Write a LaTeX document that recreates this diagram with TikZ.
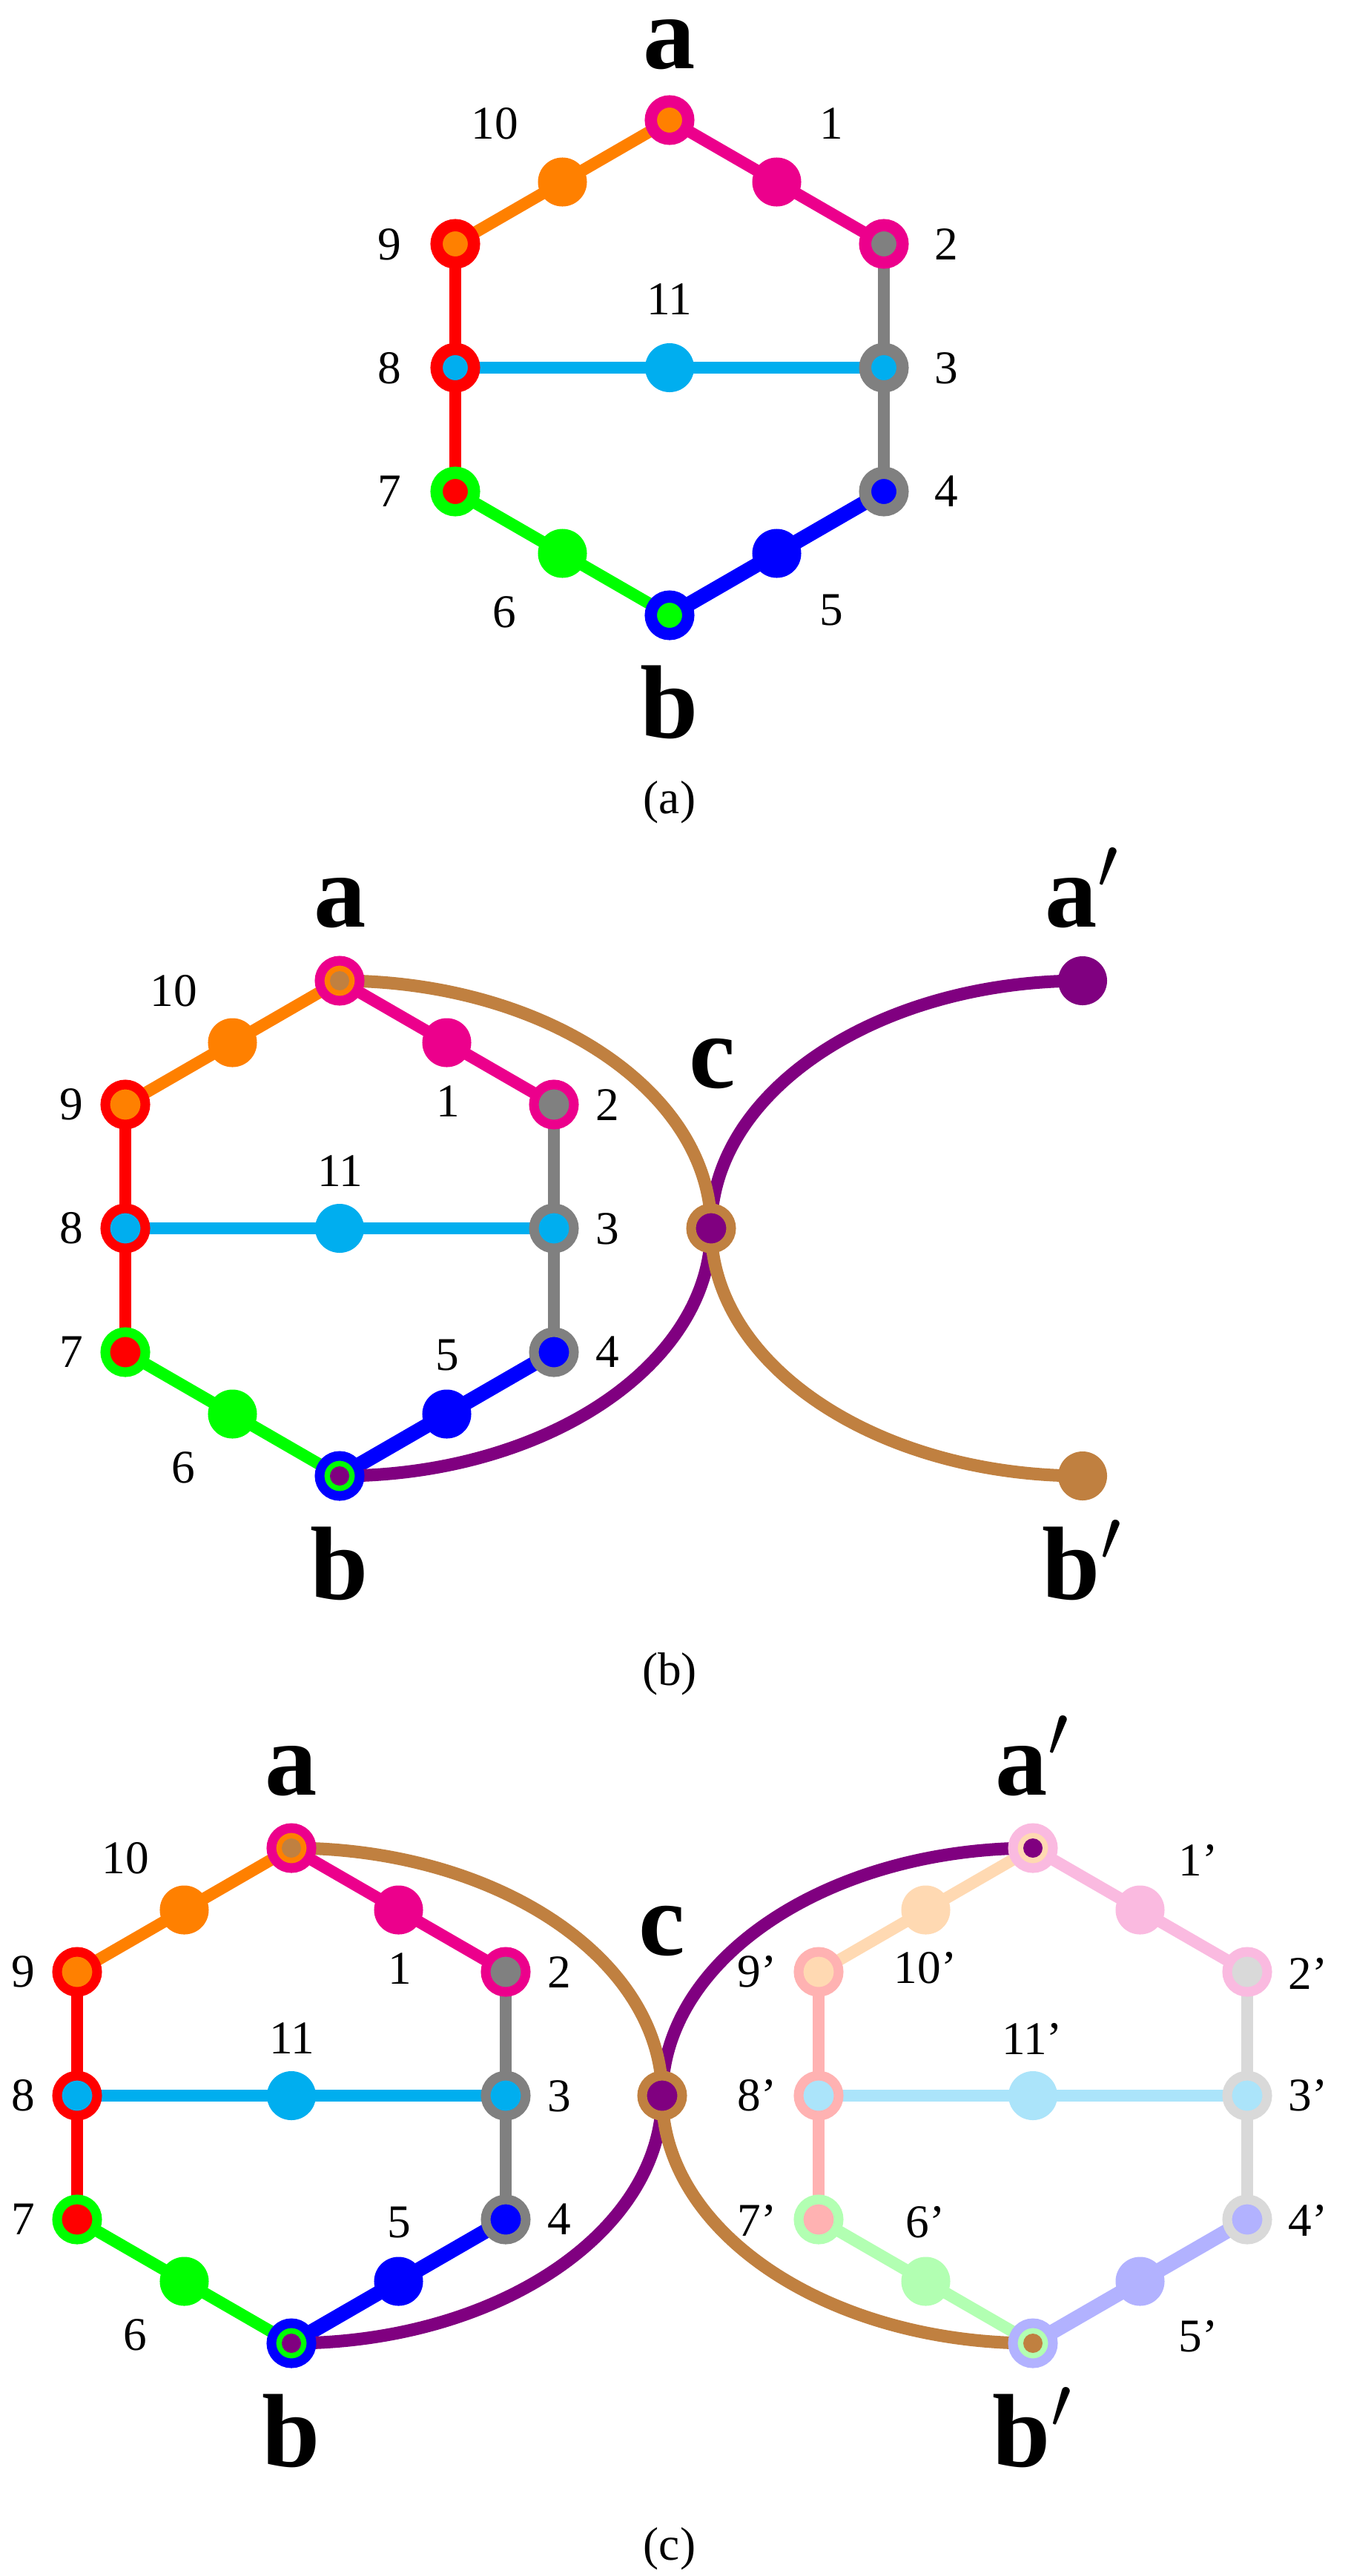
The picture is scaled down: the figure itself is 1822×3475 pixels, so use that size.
\documentclass[tikz,border=0pt]{standalone}
\usepackage{fix-cm}
\usepackage{fontspec}
\setmainfont{Liberation Serif}
\usetikzlibrary{calc}
\pgfdeclarelayer{bg}
\pgfsetlayers{bg,main}
\definecolor{cMag}{RGB}{236,0,140}
\definecolor{cOrn}{RGB}{255,128,0}
\definecolor{cRed}{RGB}{255,0,0}
\definecolor{cGry}{RGB}{128,128,128}
\definecolor{cSky}{RGB}{0,174,239}
\definecolor{cGrn}{RGB}{0,255,0}
\definecolor{cBlu}{RGB}{0,0,255}
\definecolor{cBrn}{RGB}{192,128,64}
\definecolor{cPur}{RGB}{128,0,128}
\colorlet{cMagL}{cMag!27!white}
\colorlet{cOrnL}{cOrn!30!white}
\colorlet{cRedL}{cRed!30!white}
\colorlet{cGryL}{cGry!30!white}
\colorlet{cSkyL}{cSky!33!white}
\colorlet{cGrnL}{cGrn!30!white}
\colorlet{cBluL}{cBlu!30!white}
\tikzset{
  vA/.style 2 args={circle, draw=#1, fill=#2, line width=0.165cm, minimum size=0.505cm, inner sep=0pt},
  vB/.style 2 args={circle, draw=#1, fill=#2, line width=0.13cm, minimum size=0.54cm, inner sep=0pt},
  mdot/.style={circle, fill=#1, minimum size=0.66cm, inner sep=0pt},
  seg/.style={draw=#1, line width=0.16cm},
  bseg/.style={draw=#1, line width=0.20cm},
  curv/.style={draw=#1, line width=0.17cm},
  lbl/.style={font=\fontsize{18}{20}\selectfont, inner sep=0pt},
  biglbl/.style={font=\fontsize{40}{44}\selectfont\bfseries, inner sep=0pt, anchor=base},
}
% #1 prefix, #2 x shift, #3 y shift, #4 colour suffix, #5 vertex style
\newcommand\hexgraph[5]{%
  \begin{scope}[shift={(#2,#3)}]
    \node[#5={cMag#4}{cOrn#4}] (#1a) at (903,162) {};
    \node[#5={cMag#4}{cGry#4}] (#1v2) at (1192,329) {};
    \node[#5={cGry#4}{cSky#4}] (#1v3) at (1192,496) {};
    \node[#5={cGry#4}{cBlu#4}] (#1v4) at (1192,663) {};
    \node[#5={cBlu#4}{cGrn#4}] (#1b) at (903,830) {};
    \node[#5={cGrn#4}{cRed#4}] (#1v7) at (614,663) {};
    \node[#5={cRed#4}{cSky#4}] (#1v8) at (614,496) {};
    \node[#5={cRed#4}{cOrn#4}] (#1v9) at (614,329) {};
    \node[mdot=cMag#4] (#1m1) at (1047.5,245.5) {};
    \node[mdot=cBlu#4] (#1m5) at (1047.5,746.5) {};
    \node[mdot=cGrn#4] (#1m6) at (758.5,746.5) {};
    \node[mdot=cOrn#4] (#1m10) at (758.5,245.5) {};
    \node[mdot=cSky#4] (#1m11) at (903,496) {};
  \end{scope}
  \begin{pgfonlayer}{bg}
    \draw[seg=cMag#4] (#1a.center) -- (#1m1.center) -- (#1v2.center);
    \draw[seg=cGry#4] (#1v2.center) -- (#1v3.center) -- (#1v4.center);
    \draw[bseg=cBlu#4] (#1v4.center) -- (#1m5.center) -- (#1b.center);
    \draw[seg=cGrn#4] (#1b.center) -- (#1m6.center) -- (#1v7.center);
    \draw[seg=cRed#4] (#1v7.center) -- (#1v8.center) -- (#1v9.center);
    \draw[seg=cOrn#4] (#1v9.center) -- (#1m10.center) -- (#1a.center);
    \draw[seg=cSky#4] (#1v8.center) -- (#1m11.center) -- (#1v3.center);
  \end{pgfonlayer}%
}
\begin{document}
\begin{tikzpicture}[x=0.01cm, y=-0.01cm]
\begin{pgfonlayer}{bg}
  \fill[white] (0,0) rectangle (1822,3475);
\end{pgfonlayer}
\useasboundingbox (0,0) rectangle (1822,3475);

% ---------------- panel (a) ----------------
\hexgraph{A}{0}{0}{}{vA}
\node[biglbl] (lAa) at (903,92) {a};
\node[biglbl] (lAb) at (903,995) {b};
\node[lbl] (lA10) at (667,167) {10};
\node[lbl] (lA1) at (1121,167) {1};
\node[lbl] (lA9) at (525,330) {9};
\node[lbl] (lA8) at (525,497) {8};
\node[lbl] (lA7) at (525,663) {7};
\node[lbl] (lA2) at (1276,330) {2};
\node[lbl] (lA3) at (1276,497) {3};
\node[lbl] (lA4) at (1276,663) {4};
\node[lbl] (lA11) at (903,404) {11};
\node[lbl] (lA6) at (680,826) {6};
\node[lbl] (lA5) at (1121,823) {5};
\node[lbl] (capA) at (903,1082) {(a)};

% ---------------- panel (b) ----------------
\hexgraph{B}{-445}{1161}{}{vB}
\node[vB={cBrn}{cPur}] (Bc) at (959,1657) {};
\node[mdot=cPur] (Bap) at (1460,1323) {};
\node[mdot=cBrn] (Bbp) at (1460,1991) {};
\begin{pgfonlayer}{bg}
  \draw[curv=cPur] (Bb.center) .. controls ($(Bb.center)+(276.7,0)$) and ($(Bc.center)+(0,184.5)$) .. (Bc.center)
     .. controls ($(Bc.center)+(0,-184.5)$) and ($(Bap.center)+(-276.7,0)$) .. (Bap.center);
  \draw[curv=cBrn] (Ba.center) .. controls ($(Ba.center)+(276.7,0)$) and ($(Bc.center)+(0,-184.5)$) .. (Bc.center)
     .. controls ($(Bc.center)+(0,184.5)$) and ($(Bbp.center)+(-276.7,0)$) .. (Bbp.center);
\end{pgfonlayer}
\fill[cBrn] (Ba.center) circle (0.13cm);
\fill[cPur] (Bb.center) circle (0.13cm);
\node[biglbl] (lBa) at (459,1250) {a};
\node[biglbl] (lBap) at (1445,1250) {a\rlap{$^{\prime}$}};
\node[biglbl] (lBc) at (961,1467) {c};
\node[biglbl] (lBb) at (458,2157) {b};
\node[biglbl] (lBbp) at (1445,2157) {b\rlap{$^{\prime}$}};
\node[lbl] (lB10) at (234,1337) {10};
\node[lbl] (lB9) at (96,1490) {9};
\node[lbl] (lB8) at (96,1657) {8};
\node[lbl] (lB7) at (96,1824) {7};
\node[lbl] (lB1) at (604,1486) {1};
\node[lbl] (lB2) at (819,1491) {2};
\node[lbl] (lB3) at (819,1658) {3};
\node[lbl] (lB4) at (819,1824) {4};
\node[lbl] (lB11) at (459,1580) {11};
\node[lbl] (lB5) at (603,1828) {5};
\node[lbl] (lB6) at (247,1980) {6};
\node[lbl] (capB) at (903,2258) {(b)};

% ---------------- panel (c) ----------------
\hexgraph{C}{-510}{2331}{}{vB}
\hexgraph{D}{490}{2331}{L}{vB}
\node[vB={cBrn}{cPur}] (Cc) at (893,2827) {};
\begin{pgfonlayer}{bg}
  \draw[curv=cPur] (Cb.center) .. controls ($(Cb.center)+(276.2,0)$) and ($(Cc.center)+(0,184.5)$) .. (Cc.center)
     .. controls ($(Cc.center)+(0,-184.5)$) and ($(Da.center)+(-276.2,0)$) .. (Da.center);
  \draw[curv=cBrn] (Ca.center) .. controls ($(Ca.center)+(276.2,0)$) and ($(Cc.center)+(0,-184.5)$) .. (Cc.center)
     .. controls ($(Cc.center)+(0,184.5)$) and ($(Db.center)+(-276.2,0)$) .. (Db.center);
\end{pgfonlayer}
\fill[cBrn] (Ca.center) circle (0.13cm);
\fill[cPur] (Cb.center) circle (0.13cm);
\fill[cPur] (Da.center) circle (0.13cm);
\fill[cBrn] (Db.center) circle (0.13cm);
\node[biglbl] (lCa) at (393,2421) {a};
\node[biglbl] (lCap) at (1378,2421) {a\rlap{$^{\prime}$}};
\node[biglbl] (lCc) at (893,2637) {c};
\node[biglbl] (lCb) at (393,3327) {b};
\node[biglbl] (lCbp) at (1378,3327) {b\rlap{$^{\prime}$}};
\node[lbl] (lC10) at (169,2507) {10};
\node[lbl] (lC9) at (31,2660) {9};
\node[lbl] (lC8) at (31,2827) {8};
\node[lbl] (lC7) at (31,2994) {7};
\node[lbl] (lC1) at (539,2656) {1};
\node[lbl] (lC2) at (754,2661) {2};
\node[lbl] (lC3) at (754,2828) {3};
\node[lbl] (lC4) at (754,2994) {4};
\node[lbl] (lC11) at (394,2750) {11};
\node[lbl] (lC5) at (538,2998) {5};
\node[lbl] (lC6) at (182,3150) {6};
\node[lbl] (lD1) at (1616,2509) {1’};
\node[lbl] (lD2) at (1764,2662) {2’};
\node[lbl] (lD3) at (1764,2827) {3’};
\node[lbl] (lD4) at (1764,2995) {4’};
\node[lbl] (lD5) at (1616,3152) {5’};
\node[lbl] (lD6) at (1248,2998) {6’};
\node[lbl] (lD7) at (1021,2995) {7’};
\node[lbl] (lD8) at (1021,2827) {8’};
\node[lbl] (lD9) at (1021,2660) {9’};
\node[lbl] (lD10) at (1248,2655) {10’};
\node[lbl] (lD11) at (1392,2750) {11’};
\node[lbl] (capC) at (903,3438) {(c)};
\end{tikzpicture}
\end{document}
